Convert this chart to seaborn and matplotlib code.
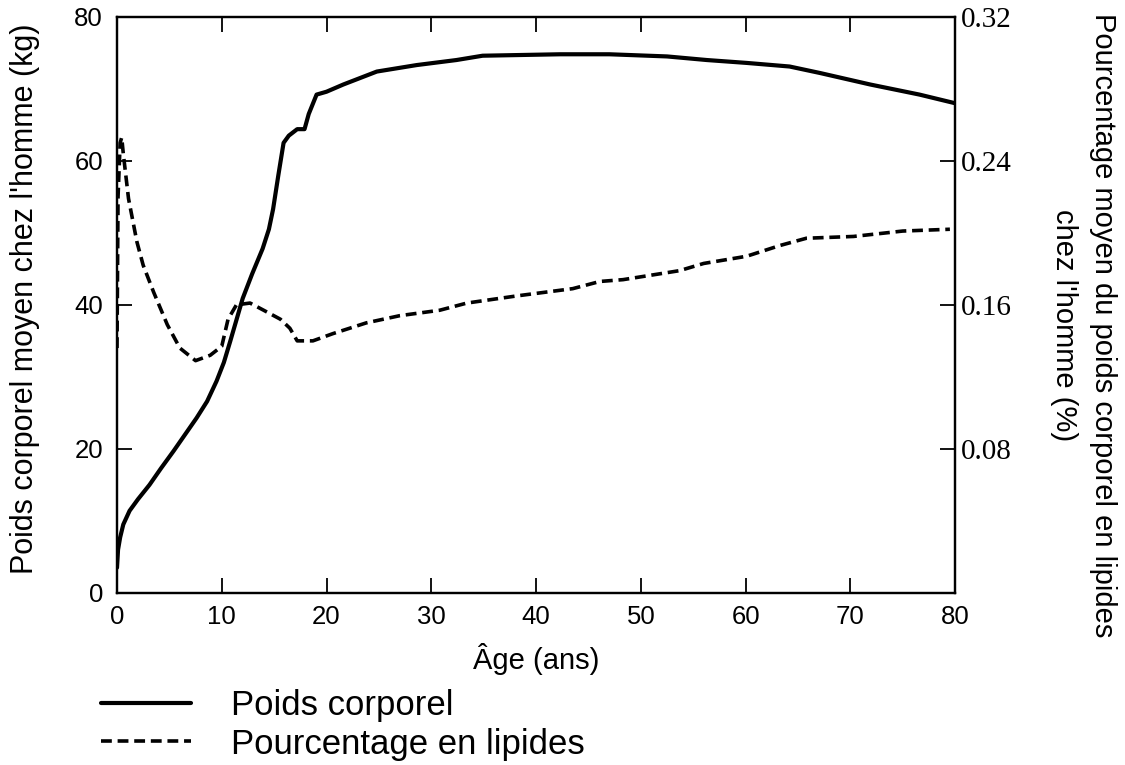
import matplotlib
matplotlib.use("Agg")
import matplotlib.pyplot as plt
import seaborn as sns
import pandas as pd

# Poids corporel moyen (kg) selon l'âge
ages_poids = [0, 0.1, 0.3, 0.6, 1.2, 2, 3.1, 4.2, 5.4, 6.5, 7.6, 8.6, 9.5, 10.2,
              10.8, 11.4, 12, 12.9, 13.9, 14.5, 14.9, 15.4, 15.9, 16.4, 17.2, 17.9,
              18.3, 19.05, 20, 21.6, 24.8, 28.6, 32.4, 34.9, 42.3, 47, 52.5, 56.3,
              60.1, 64.2, 67.1, 71.9, 76.6, 80]
poids = [3.5, 6, 7.7, 9.5, 11.4, 13, 15, 17.3, 19.7, 22, 24.3, 26.6, 29.4, 32,
         34.9, 37.9, 40.9, 44.3, 47.8, 50.5, 53.3, 58, 62.5, 63.5, 64.4, 64.4,
         66.5, 69.2, 69.6, 70.6, 72.4, 73.3, 74.0, 74.6, 74.8, 74.8, 74.5, 74.0,
         73.6, 73.1, 72.2, 70.6, 69.2, 68.0]

# Fraction de lipides dans le poids corporel
ages_lipides = [0, 0.1, 0.3, 0.45, 0.6, 0.8, 1.1, 1.9, 2.5, 3.5, 4.8, 6.0, 7.5, 8.9,
                10.0, 10.6, 11.4, 12.7, 14.0, 15.6, 16.5, 17.2, 18.7, 20.6, 23.8,
                27, 30.8, 33.4, 38.2, 43.5, 46.1, 48.3, 53.7, 56, 60.1, 63.3, 65.8,
                70.3, 75, 79.5]
lipides = [0.136, 0.22, 0.25, 0.253, 0.244, 0.234, 0.219, 0.195, 0.182, 0.167,
           0.149, 0.136, 0.129, 0.132, 0.137, 0.152, 0.160, 0.161, 0.157, 0.152,
           0.147, 0.140, 0.140, 0.144, 0.150, 0.154, 0.157, 0.161, 0.165, 0.169,
           0.173, 0.174, 0.179, 0.183, 0.187, 0.193, 0.197, 0.198, 0.201, 0.202]

sns.set_style("ticks")
plt.rcParams['font.family'] = ['Liberation Sans', 'DejaVu Sans']
plt.rcParams['text.color'] = 'black'
plt.rcParams['axes.labelcolor'] = 'black'

fig = plt.figure(figsize=(11.25, 7.65), dpi=100)
ax = fig.add_axes([0.104, 0.225, 0.745, 0.753])
ax2 = ax.twinx()

df_poids = pd.DataFrame({'age': ages_poids, 'poids': poids})
df_lip = pd.DataFrame({'age': ages_lipides, 'lipides': lipides})

sns.lineplot(data=df_poids, x='age', y='poids', ax=ax, color='black', linewidth=3,
             label='Poids corporel', legend=False)
sns.lineplot(data=df_lip, x='age', y='lipides', ax=ax2, color='black', linewidth=2.6,
             linestyle=(0, (3, 1.6)), label='Pourcentage en lipides', legend=False)

ax.set_xlim(0, 80)
ax.set_ylim(0, 80)
ax2.set_ylim(0, 0.32)
ax.set_xticks(range(0, 81, 10))
ax.set_yticks(range(0, 81, 20))
ax2.set_yticks([0.08, 0.16, 0.24, 0.32])
ax2.set_yticklabels(['0.08', '0.16', '0.24', '0.32'], family='Liberation Serif', fontsize=21)

for a in (ax, ax2):
    for s in a.spines.values():
        s.set_linewidth(1.6)
        s.set_color('black')
ax.tick_params(axis='both', direction='in', length=11, width=1.3, labelsize=18.5, colors='black',
               top=True, pad=10)
ax.tick_params(axis='x', pad=9)
ax2.tick_params(axis='y', direction='in', length=11, width=1.3, pad=4, colors='black')

ax.set_xlabel("Âge (ans)", fontsize=21, labelpad=10)
ax.set_ylabel("Poids corporel moyen chez l'homme (kg)", fontsize=22, va='center')
ax.yaxis.set_label_coords(-0.11, 0.51)
ax2.set_ylabel("Pourcentage moyen du poids corporel en lipides\nchez l'homme (%)",
               fontsize=21, rotation=270, linespacing=1.5, va='center')
ax2.yaxis.set_label_coords(1.153, 0.465)

h1, l1 = ax.get_legend_handles_labels()
h2, l2 = ax2.get_legend_handles_labels()
fig.legend(h1 + h2, l1 + l2, loc='upper left', bbox_to_anchor=(0.077, 0.117),
           frameon=False, fontsize=25, handlelength=2.6, handletextpad=1.15,
           labelspacing=0.15, borderaxespad=0)

fig.savefig("out.png", dpi=100)
